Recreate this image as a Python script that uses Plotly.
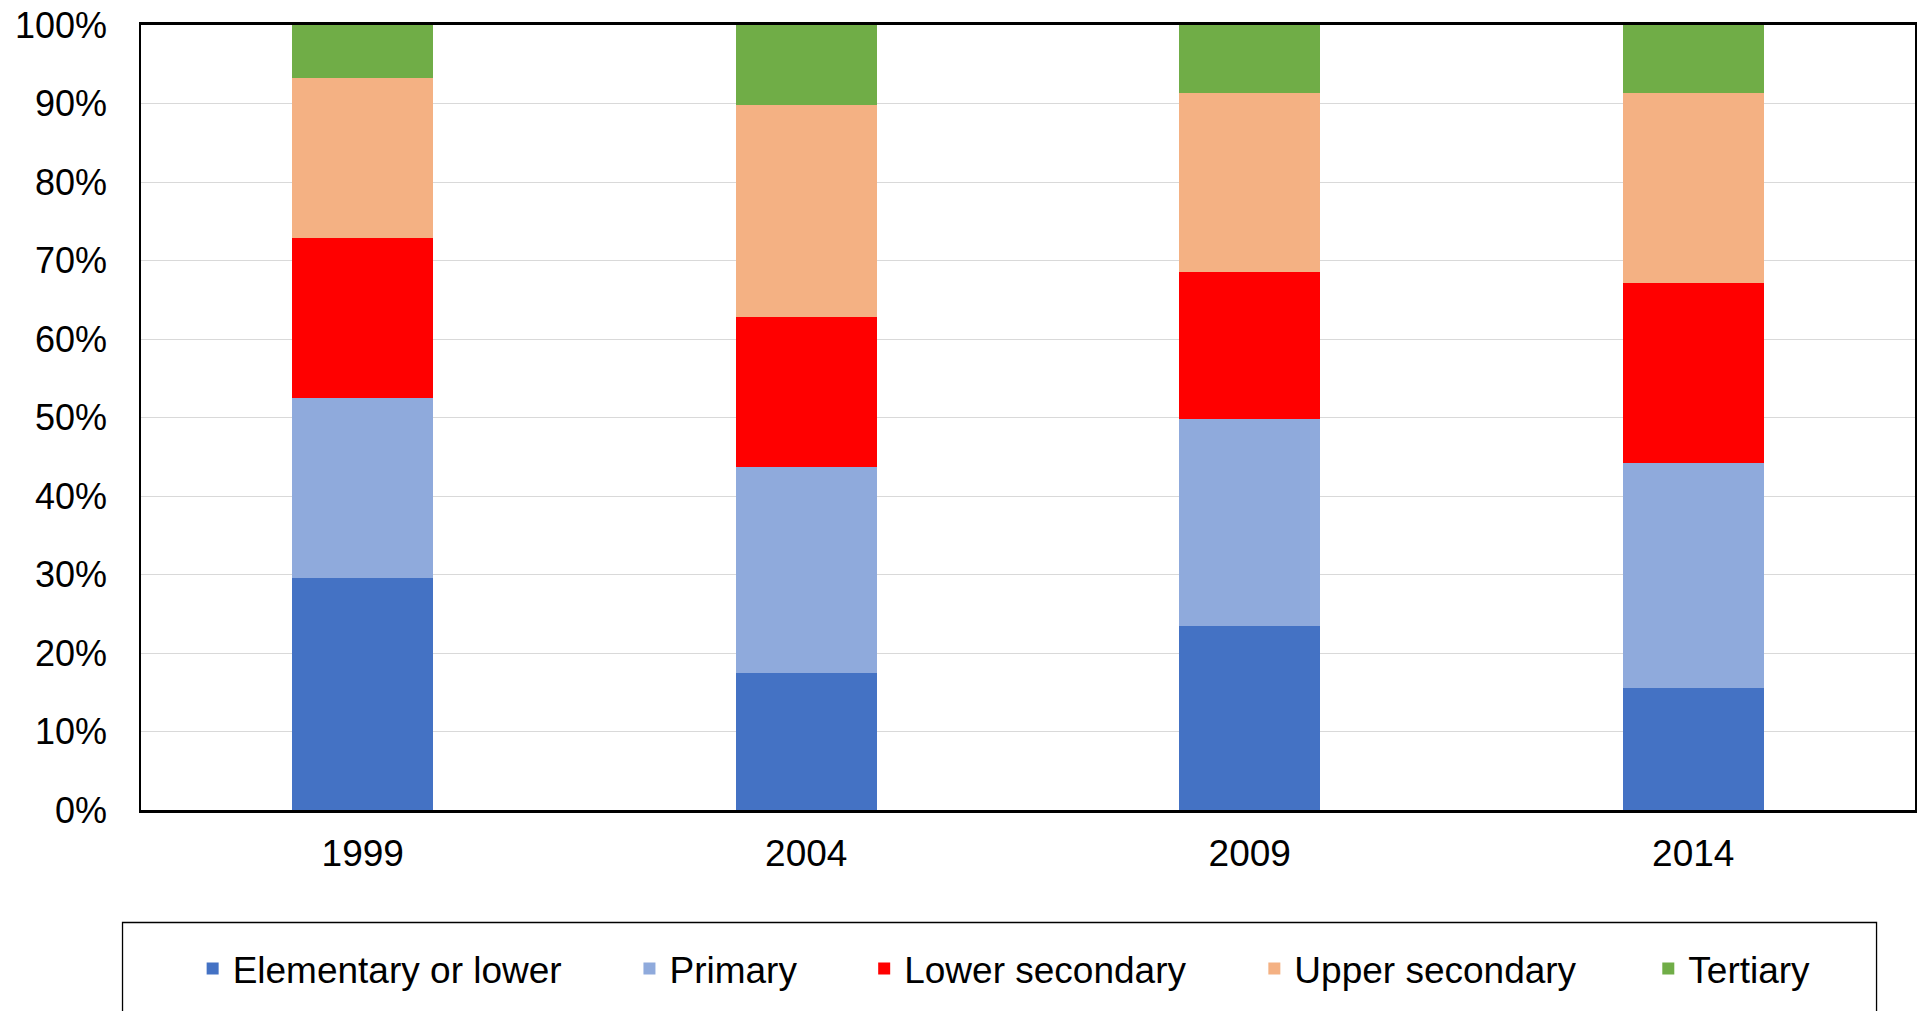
import plotly.graph_objects as go

years = ["1999", "2004", "2009", "2014"]
series_names = ["Elementary or lower", "Primary", "Lower secondary", "Upper secondary", "Tertiary"]
elementary = [29.6, 17.5, 23.5, 15.6]
primary = [22.9, 26.2, 26.3, 28.6]
lower_secondary = [20.4, 19.1, 18.75, 22.9]
upper_secondary = [20.3, 27.0, 22.75, 24.2]
tertiary = [6.8, 10.2, 8.7, 8.7]
y_ticks = [0, 10, 20, 30, 40, 50, 60, 70, 80, 90, 100]

series_values = [elementary, primary, lower_secondary, upper_secondary, tertiary]
colors = ["#4472C4", "#8FAADC", "#FF0000", "#F4B183", "#70AD47"]

W, H = 1919, 1011
ML, MR, MT, MB = 141, 2, 25, 201
PW = W - ML - MR
PH = H - MT - MB

def px_x(p):
    return (p - ML) / PW

def px_y(p):
    return (H - MB - p) / PH

FONT = "Liberation Sans, Arial, sans-serif"
legend_text_starts = [232.7, 670, 905, 1295.6, 1690]

fig = go.Figure()
for i, (name, vals, col) in enumerate(zip(series_names, series_values, colors)):
    lg = "legend" if i == 0 else f"legend{i+1}"
    fig.add_trace(go.Bar(
        x=years, y=vals, name=name,
        marker=dict(color=col, line=dict(width=0)),
        legend=lg, showlegend=True,
    ))

layout_legends = {}
for i, start in enumerate(legend_text_starts):
    key = "legend" if i == 0 else f"legend{i+1}"
    layout_legends[key] = dict(
        x=px_x(start - 40), xanchor="left",
        y=px_y(969), yanchor="middle",
        orientation="h",
        bgcolor="rgba(0,0,0,0)", borderwidth=0,
        font=dict(family=FONT, size=37, color="#000000"),
        itemclick=False, itemdoubleclick=False,
    )

fig.update_layout(
    width=W, height=H,
    margin=dict(l=ML, r=MR, t=MT, b=MB, pad=0),
    barmode="stack",
    bargap=0.682,
    showlegend=True,
    plot_bgcolor="#FFFFFF",
    paper_bgcolor="#FFFFFF",
    font=dict(family=FONT, color="#000000"),
    **layout_legends,
)

fig.update_xaxes(
    type="category",
    showline=True, linecolor="#000000", linewidth=2.5, mirror=True,
    showgrid=False, ticks="",
    tickfont=dict(family=FONT, size=37, color="#000000"),
    ticklabelstandoff=9,
)
fig.update_yaxes(
    range=[0, 100],
    tickvals=y_ticks, ticktext=[f"{v}%" for v in y_ticks],
    showline=True, linecolor="#000000", linewidth=1.5, mirror=True,
    showgrid=True, gridcolor="#D9D9D9", gridwidth=1.3,
    zeroline=False, ticks="",
    tickfont=dict(family=FONT, size=36, color="#000000"),
    ticklabelstandoff=25,
)

# legend frame
fig.add_shape(
    type="rect", xref="paper", yref="paper",
    x0=px_x(122.5), x1=px_x(1878.5), y0=px_y(1030), y1=px_y(922.5),
    line=dict(color="#000000", width=1.3), fillcolor="rgba(0,0,0,0)",
    layer="above",
)

fig.write_html(
    "out.html",
    config={"displayModeBar": False},
    post_script="document.body.style.margin='0';document.body.style.overflow='hidden';",
)
